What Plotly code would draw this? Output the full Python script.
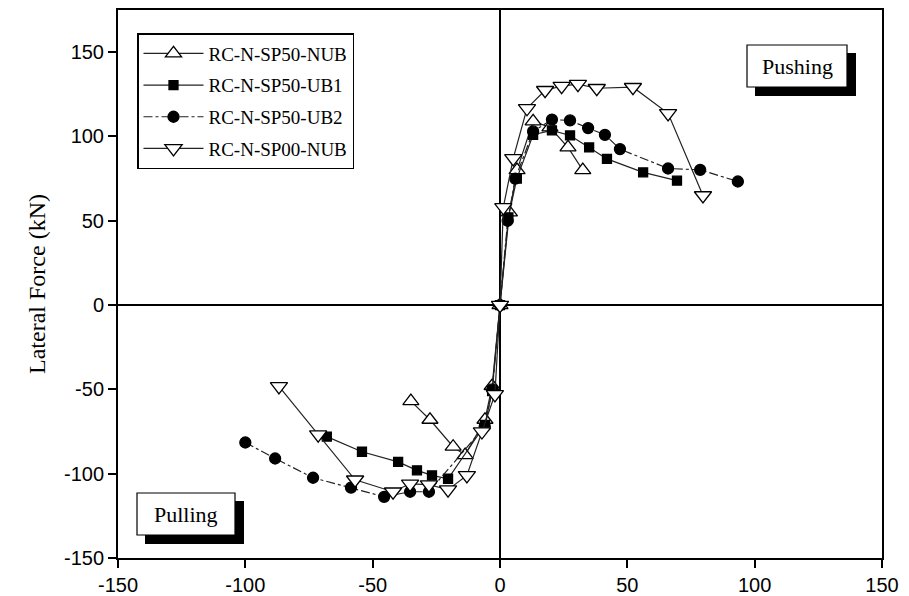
import plotly.graph_objects as go

# Lateral force (kN) vs displacement (mm) envelopes for four specimens
series_names = ["RC-N-SP50-NUB", "RC-N-SP50-UB1", "RC-N-SP50-UB2", "RC-N-SP00-NUB"]

nub_x = [-35.0, -27.5, -18.4, -13.7, -5.9, -3.1, 0.0, 3.7, 6.7, 13.0, 19.6, 26.7, 32.5]
nub_y = [-57.0, -68.0, -84.0, -89.0, -68.0, -48.0, 0.0, 55.0, 80.0, 109.0, 105.4, 93.5, 80.0]

ub1_x = [-68.0, -54.2, -40.0, -32.6, -26.7, -20.4, -5.9, -3.1, 0.0, 3.3, 6.6, 13.0, 20.4, 27.5, 35.0, 42.0, 56.2, 69.5]
ub1_y = [-78.0, -87.0, -93.0, -98.0, -101.0, -103.0, -71.0, -51.0, 0.0, 52.0, 75.0, 101.0, 103.6, 100.6, 93.5, 86.7, 78.7, 73.8]

ub2_x = [-100.0, -88.3, -73.4, -58.5, -45.5, -35.3, -27.9, -6.0, -3.0, 0.0, 3.0, 6.0, 13.0, 20.4, 27.5, 34.6, 41.2, 47.1, 66.0, 78.6, 93.4]
ub2_y = [-81.5, -91.0, -102.4, -108.3, -113.7, -110.7, -110.7, -72.0, -50.0, 0.0, 50.0, 75.0, 103.0, 110.0, 109.5, 105.0, 101.0, 92.5, 81.0, 80.2, 73.3]

sp00_x = [-86.8, -71.4, -56.9, -42.0, -35.3, -27.9, -20.4, -13.0, -7.1, -2.0, 0.0, 1.3, 5.2, 10.6, 17.7, 24.2, 30.6, 38.0, 52.2, 66.0, 79.7]
sp00_y = [-48.2, -76.8, -103.6, -110.7, -106.0, -106.5, -109.5, -101.0, -75.0, -53.0, 0.0, 58.0, 87.0, 116.7, 127.4, 129.8, 131.0, 128.6, 129.2, 113.7, 65.0]

x_ticks = [-150, -100, -50, 0, 50, 100, 150]
y_ticks = [-150, -100, -50, 0, 50, 100, 150]

styles = [
    dict(symbol="triangle-up", size=14, color="white", dash="solid"),
    dict(symbol="square", size=9, color="black", dash="solid"),
    dict(symbol="circle", size=11, color="black", dash="dashdot"),
    dict(symbol="triangle-down", size=15, color="white", dash="solid"),
]
data = [(nub_x, nub_y), (ub1_x, ub1_y), (ub2_x, ub2_y), (sp00_x, sp00_y)]

fig = go.Figure()
for i, (name, (xs, ys), st) in enumerate(zip(series_names, data, styles)):
    fig.add_trace(go.Scatter(
        x=xs, y=ys, name=name, mode="lines+markers", legendgroup=f"g{i}",
        line=dict(color="#222222", width=1.2, dash=st["dash"]),
        marker=dict(symbol=st["symbol"], size=st["size"], color=st["color"],
                    line=dict(color="black", width=1.3)),
    ))

L, R, T, B = 118, 27, 10, 38
W, H = 909, 596
pw, ph = W - L - R, H - T - B


def px(xp):
    return (xp - L) / pw


def py(yp):
    return (H - B - yp) / ph


shapes = []
annotations = []
# Labelled boxes with drop shadows
for label, (x0, y0, x1, y1) in [("Pushing", (747, 45, 847, 87)), ("Pulling", (137, 493, 235, 535))]:
    shapes.append(dict(type="rect", xref="paper", yref="paper",
                       x0=px(x0 + 8), x1=px(x1 + 9), y0=py(y1 + 9), y1=py(y0 + 8),
                       fillcolor="black", line=dict(width=0), layer="above"))
    shapes.append(dict(type="rect", xref="paper", yref="paper",
                       x0=px(x0), x1=px(x1), y0=py(y1), y1=py(y0),
                       fillcolor="white", line=dict(color="black", width=1.2), layer="above"))
    annotations.append(dict(text=label, xref="paper", yref="paper",
                            x=px((x0 + x1) / 2), y=py((y0 + y1) / 2),
                            showarrow=False, xanchor="center", yanchor="middle",
                            font=dict(family="Liberation Serif", size=22, color="black")))

fig.update_layout(
    width=W, height=H,
    margin=dict(l=L, r=R, t=T, b=B),
    paper_bgcolor="white", plot_bgcolor="white",
    showlegend=True,
    legend=dict(x=px(137), y=py(33), xanchor="left", yanchor="top",
                bordercolor="black", borderwidth=1.5, bgcolor="white",
                font=dict(family="Liberation Serif", size=19, color="black"),
                itemwidth=60, tracegroupgap=4),
    shapes=shapes,
    annotations=annotations,
)
fig.update_xaxes(range=[-150, 150], tickvals=x_ticks, ticktext=[str(v) for v in x_ticks],
                 ticks="outside", ticklen=8, tickwidth=2,
                 tickcolor="black", showline=True, linecolor="black", linewidth=2, mirror=True,
                 showgrid=False, zeroline=True, zerolinecolor="black", zerolinewidth=2,
                 automargin=False,
                 tickfont=dict(family="Liberation Sans", size=20, color="black"))
fig.update_yaxes(range=[-150, 175], tickvals=y_ticks, ticktext=[str(v) for v in y_ticks],
                 ticks="outside", ticklen=8, tickwidth=2,
                 tickcolor="black", showline=True, linecolor="black", linewidth=2, mirror=True,
                 showgrid=False, zeroline=True, zerolinecolor="black", zerolinewidth=2,
                 automargin=False,
                 tickfont=dict(family="Liberation Sans", size=20, color="black"),
                 title=dict(text="Lateral Force (kN)", standoff=12,
                            font=dict(family="Liberation Serif", size=24, color="black")))

fig.write_html("out.html")
